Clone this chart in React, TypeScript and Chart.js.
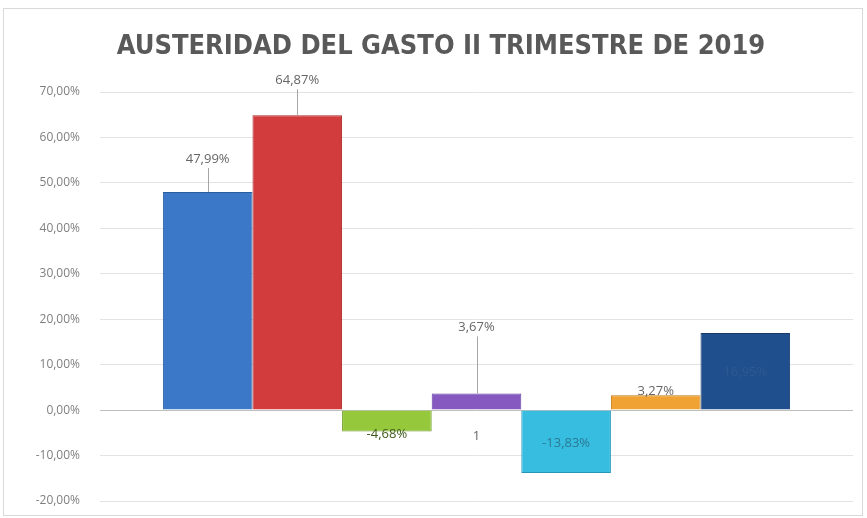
import React, { useEffect, useRef } from "react";
import { Chart, registerables } from "chart.js";

Chart.register(...registerables);

const categories = [""];
const seriesNames = ["S1", "S2", "S3", "S4", "S5", "S6", "S7"];
const seriesValues = [47.99, 64.87, -4.68, 3.67, -13.83, 3.27, 16.95];
const seriesLabels = ["47,99%", "64,87%", "-4,68%", "3,67%", "-13,83%", "3,27%", "16,95%"];
const seriesColors = ["#3b78c8", "#d23c3c", "#96c83c", "#8659c0", "#37bde0", "#f0a233", "#1f4f8d"];
const seriesEdge = ["#2a5d9f", "#a82a2a", "#6f9a24", "#6440a0", "#2297b8", "#c47a16", "#153a6b"];
const yTicks = [-20, -10, 0, 10, 20, 30, 40, 50, 60, 70];
const title = "AUSTERIDAD DEL GASTO II TRIMESTRE DE 2019";
const extraLabel = "1";

// label placement (pixel offsets from bar end) and leader-line flags
const labelOffsets = [-33, -35, 3, -66, -30, -4, 39];
const leaderLines = [true, true, false, true, false, false, false];
const labelColors = ["#666666", "#666666", "#3d5a1a", "#666666", "#2a7a95", "#666666", "#2d5a94"];

const fmt = (v: number) => v.toFixed(2).replace(".", ",") + "%";

const labelsPlugin = {
  id: "customLabels",
  afterDatasetsDraw(chart: any) {
    const ctx = chart.ctx;
    ctx.save();
    // title
    ctx.font = "bold 27px 'DejaVu Sans Condensed', 'Open Sans', sans-serif";
    ctx.fillStyle = "#595959";
    ctx.textAlign = "center";
    ctx.textBaseline = "middle";
    ctx.fillText(title, 441, 47);

    ctx.font = "13px 'Open Sans', 'DejaVu Sans', sans-serif";
    chart.data.datasets.forEach((ds: any, i: number) => {
      const meta = chart.getDatasetMeta(i);
      const el = meta.data[0];
      if (!el) return;
      const x = el.x;
      const yEnd = el.y;
      const ly = yEnd + labelOffsets[i];
      if (leaderLines[i]) {
        ctx.strokeStyle = "#a6a6a6";
        ctx.lineWidth = 1;
        ctx.beginPath();
        ctx.moveTo(Math.round(x) + 0.5, ly + 9);
        ctx.lineTo(Math.round(x) + 0.5, yEnd);
        ctx.stroke();
      }
      ctx.fillStyle = labelColors[i];
      ctx.fillText(seriesLabels[i], x, ly);
      if (i === 3) {
        const zeroY = chart.scales.y.getPixelForValue(0);
        ctx.fillStyle = "#666666";
        ctx.fillText(extraLabel, x, zeroY + 26);
      }
    });
    ctx.restore();
  },
};

export default function App() {
  const ref = useRef<HTMLCanvasElement | null>(null);
  useEffect(() => {
    document.body.style.margin = "0";
    const canvas = ref.current!;
    const datasets = seriesNames.map((n, i) => ({
      label: n,
      data: [seriesValues[i]],
      backgroundColor: seriesColors[i],
      borderColor: seriesEdge[i],
      borderWidth: 1,
      barPercentage: 1,
      categoryPercentage: 0.833,
    }));
    const chart = new Chart(canvas, {
      type: "bar",
      data: { labels: categories, datasets },
      options: {
        animation: false,
        responsive: false,
        maintainAspectRatio: false,
        layout: { padding: { top: 92, left: 14, right: 14, bottom: 17 } },
        plugins: {
          legend: { display: false },
          title: { display: false },
          tooltip: { enabled: false },
        },
        scales: {
          x: {
            display: false,
          },
          y: {
            min: -20,
            max: 70,
            afterBuildTicks: (s: any) => {
              s.ticks = yTicks.map((v) => ({ value: v }));
            },
            afterFit: (s: any) => {
              s.width = 86;
              s.paddingTop = 0;
              s.paddingBottom = 0;
            },
            ticks: {
              color: "#7f7f7f",
              font: { family: "'Open Sans', 'DejaVu Sans', sans-serif", size: 12 },
              padding: 20,
              callback: (v: any) => fmt(Number(v)),
            },
            grid: {
              color: (c: any) => (c.tick && c.tick.value === 0 ? "#bfbfbf" : "#e3e3e3"),
              drawTicks: false,
            },
            border: { display: false },
          },
        },
      },
      plugins: [labelsPlugin],
    });
    return () => chart.destroy();
  }, []);
  return (
    <div style={{ position: "relative", width: 867, height: 518 }}>
      <canvas ref={ref} width={867} height={518} style={{ display: "block" }} />
      <div
        style={{
          position: "absolute",
          left: 3,
          top: 8,
          width: 860,
          height: 508,
          border: "1px solid #d9d9d9",
          boxSizing: "border-box",
          pointerEvents: "none",
        }}
      />
    </div>
  );
}
